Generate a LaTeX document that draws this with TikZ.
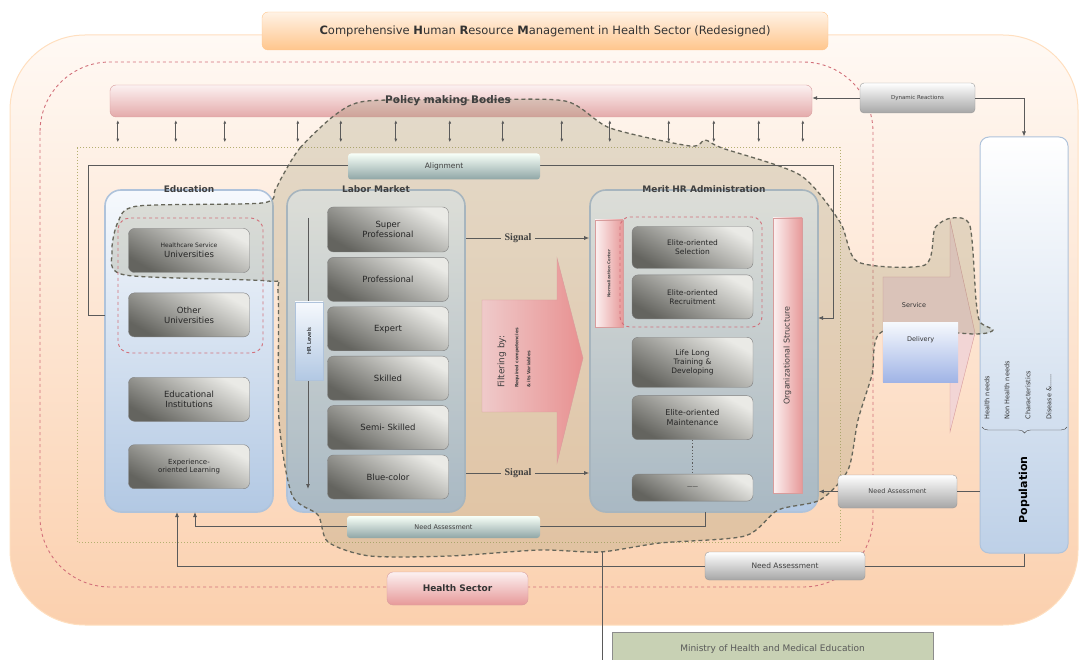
\documentclass[tikz,border=0pt]{standalone}
\usepackage{fontspec}
\setmainfont{DejaVu Sans}
\newfontfamily\sigfont{Liberation Serif}
\usetikzlibrary{positioning,arrows.meta,shadings,decorations.pathreplacing}

\definecolor{bgtop}{HTML}{FFF9F4}
\definecolor{bgbot}{HTML}{FBD0AE}
\definecolor{itemlight}{HTML}{EAEAE6}
\definecolor{itemdark}{HTML}{64645F}
\definecolor{conttop}{HTML}{F6F9FD}
\definecolor{contbot}{HTML}{B2C8E3}
\definecolor{contline}{HTML}{AFC3DB}
\definecolor{pinktop}{HTML}{FCF1F1}
\definecolor{pinkbot}{HTML}{E4AAAA}
\definecolor{pinkline}{HTML}{D89C9C}
\definecolor{reddash}{HTML}{D2707A}
\definecolor{greendot}{HTML}{B5B070}
\definecolor{blobfill}{HTML}{8E8A62}
\definecolor{blobline}{HTML}{66665A}
\definecolor{linegray}{HTML}{5A5A5A}
\definecolor{ministfill}{HTML}{C8D1B4}

\newcommand\itemfont{\fontsize{8.5}{10}\selectfont}
\newcommand\smallfont{\fontsize{6.5}{7.5}\selectfont}
\newcommand\tinyfont{\fontsize{5.5}{6.5}\selectfont}

\tikzset{
  titlebox/.style={draw=orange!45, rounded corners=6pt, top color=orange!10, bottom color=orange!45,
    minimum width=566pt, minimum height=38pt, font=\fontsize{11.5}{13}\selectfont, text=black!80},
  policybox/.style={draw=pinkline, rounded corners=6pt, top color=pinktop, bottom color=pinkbot,
    minimum width=702pt, minimum height=32pt},
  contbox/.style={draw=contline, line width=1.6pt, rounded corners=16pt, top color=conttop,
    bottom color=contbot},
  conttitle/.style={font=\fontsize{9}{10}\selectfont\bfseries, text=black!75},
  itembox/.style={draw=black!50, rounded corners=6pt, top color=itemlight, bottom color=itemdark,
    shading angle=-30, minimum width=121pt, minimum height=44pt, align=center, font=\itemfont,
    text=black!85},
  graybtn/.style={draw=black!40, rounded corners=4pt, top color=white, bottom color=black!35,
    align=center, font=\smallfont, text=black!75},
  greenbtn/.style={rounded corners=3pt, top color=green!3!white, bottom color=teal!25!gray!70,
    font=\smallfont, text=black!75},
  pinkbar/.style={draw=pinkline, left color=pinktop, right color=pinkbot!90!red},
  reddash/.style={draw=reddash, dashed, line width=0.9pt, rounded corners=#1},
  conn/.style={draw=linegray, line width=0.8pt},
  signal/.style={font=\sigfont\bfseries\fontsize{10}{11}\selectfont, text=black!75},
  needtext/.style={rotate=90, anchor=west, font=\fontsize{6.5}{7.5}\selectfont, text=black!80},
}

\begin{document}
\begin{tikzpicture}[x=1pt,y=-1pt, >={Latex[length=5pt,width=4pt]}]
  \useasboundingbox (0,0) rectangle (1085,660);
  \clip (0,0) rectangle (1085,660);

  % health sector background and frames
  \path[draw=orange!25, line width=1pt, top color=bgtop, bottom color=bgbot, rounded corners=75pt]
    (10,35) rectangle (1078,625);
  \draw[reddash=70pt] (40,62) rectangle (873,587);
  \draw[greendot, dotted, line width=1pt] (77,148) rectangle (840,542);

  \node[titlebox] (title) at (545,31)
    {\textbf{C}omprehensive \textbf{H}uman \textbf{R}esource \textbf{M}anagement in Health Sector (Redesigned)};

  \node[policybox] (policy) at (461,101) {};
  \node[graybtn, minimum width=115pt, minimum height=30pt, font=\tinyfont] (dyn) at (917.5,98) {Dynamic Reactions};

  % containers
  \node[contbox, minimum width=168pt, minimum height=322pt] (edu) at (189,351) {};
  \node[contbox, minimum width=178pt, minimum height=322pt] (labor) at (376,351) {};
  \node[contbox, minimum width=228pt, minimum height=322pt] (merit) at (704,351) {};
  \node[draw=contline, line width=1pt, rounded corners=9pt, top color=white, bottom color=contbot!85,
    minimum width=88pt, minimum height=416pt] (pop) at (1024,345) {};

  % service delivery arrow
  \draw[draw=pinkline, fill=pinktop!60!pinkbot] (883,277) -- (950,277) -- (950,220) -- (975,333)
    -- (950,432) -- (950,382) -- (883,382) -- cycle;

  % ministry region
  \draw[blobline, dashed, line width=1.3pt, fill=blobfill, fill opacity=0.24, dash pattern=on 4pt off 3pt]
    plot[smooth cycle, tension=0.45] coordinates {
      (283,175) (300,148) (335,115) (367,101) (470,100) (565,101) (610,128) (690,146) (705,140)
      (722,148) (800,175) (840,222) (858,262) (925,265) (935,228) (952,218) (970,226) (976,300)
      (980,322) (993,330) (975,334) (883,331) (872,375) (858,420) (848,470) (820,500) (778,510)
      (745,536) (660,543) (600,552) (540,550) (450,556) (370,556) (328,542) (318,515) (292,495)
      (279,420) (278,292) (268,281) (125,275) (112,252) (118,222) (138,206) (262,203) (275,190)};

  \node[font=\fontsize{10.5}{12}\selectfont\bfseries, text=black!75] at (448,101) {Policy making Bodies};
  \node[conttitle] at (edu.north) {Education};
  \node[conttitle] at (labor.north) {Labor Market};
  \node[conttitle] at (merit.north) {Merit HR Administration};

  % education
  \draw[reddash=12pt] (118,218) rectangle (263,353);
  \node[itembox] (hcuni) at (189,250.5) {{\fontsize{6}{7}\selectfont Healthcare Service}\\Universities};
  \node[itembox, below=20pt of hcuni] (othuni) {Other\\Universities};
  \node[itembox, below=40pt of othuni] (eduinst) {Educational\\Institutions};
  \node[itembox, below=23pt of eduinst, font=\fontsize{7}{8.5}\selectfont] (explearn) {Experience-\\oriented Learning};

  % labor market
  \coordinate (hrtop) at (308,218);
  \coordinate (hrbot) at (308,489);
  \draw[conn, ->] (hrtop) -- (hrbot);
  \node[draw=contline, top color=conttop, bottom color=contbot, minimum width=28pt, minimum height=78pt] (hrlvl) at (309,341) {};
  \node[rotate=90, font=\tinyfont] at (hrlvl) {HR Levels};
  \node[itembox, minimum height=45pt] (superp) at (388,229.5) {Super\\Professional};
  \node[itembox, below=5pt of superp] (prof) {Professional};
  \node[itembox, below=5pt of prof] (expert) {Expert};
  \node[itembox, below=5pt of expert] (skilled) {Skilled};
  \node[itembox, below=5pt of skilled] (semisk) {Semi- Skilled};
  \node[itembox, below=5pt of semisk] (bluec) {Blue-color};

  % filtering
  \draw[draw=pinkline, left color=pinktop!45!pinkbot, right color=pinkbot!85!red] (482,300) -- (557,300) -- (557,258)
    -- (583,358) -- (557,463) -- (557,412) -- (482,412) -- cycle;
  \node[rotate=90, align=left, text=black!75] at (514,358)
    {\fontsize{9}{10}\selectfont Filtering by:\\[2pt]{\fontsize{4.5}{5.5}\selectfont\bfseries Required competencies}\\{\fontsize{4.5}{5.5}\selectfont\bfseries \& its Variables}};

  % merit hr administration
  \node[pinkbar, minimum width=28pt, minimum height=107pt] (normc) at (609,273.5) {};
  \node[rotate=90, font=\fontsize{4}{5}\selectfont\bfseries, text=black!70] at (normc) {Normalization Center};
  \draw[reddash=10pt] (620,217) rectangle (762,327);
  \node[itembox, minimum height=42pt, font=\fontsize{7.5}{9}\selectfont] (sel) at (692.5,247.5) {Elite-oriented\\Selection};
  \node[itembox, below=6pt of sel, font=\fontsize{7.5}{9}\selectfont] (recr) {Elite-oriented\\Recruitment};
  \node[itembox, below=18pt of recr, minimum height=50pt, font=\fontsize{7.5}{9}\selectfont] (train) {Life Long\\Training \&\\Developing};
  \node[itembox, below=8pt of train, font=\fontsize{8}{9.5}\selectfont] (maint) {Elite-oriented\\Maintenance};
  \node[itembox, below=34pt of maint, minimum height=27pt, font=\tinyfont] (morebox) {------};
  \draw[linegray, dotted, line width=1.2pt] (maint) -- (morebox);
  \node[pinkbar, minimum width=29pt, minimum height=275pt] (orgst) at (787.5,355.5) {};
  \node[rotate=90, font=\fontsize{8}{9}\selectfont, text=black!75] at (orgst) {Organizational Structure};

  % signals
  \node[signal] (sig1) at (518,238) {Signal};
  \node[signal] (sig2) at (518,473) {Signal};
  \draw[conn] (labor.east |- sig1) -- (sig1);
  \draw[conn, ->] (sig1) -- (merit.west |- sig1);
  \draw[conn] (labor.east |- sig2) -- (sig2);
  \draw[conn, ->] (sig2) -- (merit.west |- sig2);

  % service delivery
  \node[font=\smallfont, text=black!80] (serv) at (914,305) {Service};
  \node[top color=conttop, bottom color=contbot!90!blue, minimum width=75pt, minimum height=60pt,
    anchor=north west, font=\smallfont, text=black!80, text depth=26pt] (deliv) at (883,322) {Delivery};

  % population
  \node[needtext] at (987,423) {Health needs};
  \node[needtext] at (1007,423) {Non Health needs};
  \node[needtext] at (1028,423) {Characteristics};
  \node[needtext] at (1049,423) {Disease \&......};
  \draw[black!70, decorate, decoration={brace, amplitude=6pt}] (1067,427) -- (982,427);
  \node[rotate=90, font=\fontsize{11}{12}\selectfont\bfseries] at (1024,490) {Population};

  % policy links
  \foreach \dx in {8,66,115,188,231,286,340,393,452,500,559,604,649,693}
    \draw[conn, <->, >={Latex[length=3.5pt,width=3pt]}] ([xshift=\dx pt, yshift=-3pt]policy.south west) -- ++(0,22);
  \draw[conn, ->] (dyn.west) -- (policy.east |- dyn.west);
  \draw[conn, ->] (dyn.east) -| (pop.north);

  % alignment loop
  \coordinate (alignl) at (88,165);
  \coordinate (alignr) at (833,165);
  \coordinate (eduside) at (105,315);
  \coordinate (meritside) at (818,318);
  \draw[conn] (eduside) -| (alignl) -- (alignr);
  \draw[conn, ->] (alignr) |- (meritside);
  \node[greenbtn, minimum width=192pt, minimum height=26pt, font=\fontsize{7.5}{9}\selectfont] (align) at (444,166.5) {Alignment};

  % need assessment loops
  \node[graybtn, minimum width=119pt, minimum height=33pt] (needr) at (897.5,491.5) {Need Assessment};
  \draw[conn] (pop.west |- needr) -- (needr.east);
  \draw[conn, ->] (needr.west) -- (merit.east |- needr.west);

  \coordinate (meritbot) at (705,512);
  \coordinate (needturn) at (195,526);
  \coordinate (edumid) at (195,512);
  \coordinate (edulow) at (177,512);
  \draw[conn, ->] (meritbot) |- (needturn) -- (edumid);
  \node[greenbtn, minimum width=193pt, minimum height=22pt] (needm) at (443.5,527) {Need Assessment};

  \node[graybtn, minimum width=160pt, minimum height=28pt, font=\fontsize{7.5}{9}\selectfont] (needb) at (785,566) {Need Assessment};
  \draw[conn] (pop.south) |- (needb.east);
  \draw[conn, ->] (needb.west) -| (edulow);

  \node[draw=pinkline, rounded corners=6pt, top color=pinktop, bottom color=pinkbot!90!red,
    minimum width=141pt, minimum height=33pt, font=\fontsize{9}{10}\selectfont\bfseries, text=black!80] (hsect) at (457.5,588.5) {Health Sector};

  % ministry
  \coordinate (minitop) at (602,552);
  \coordinate (minibot) at (602,662);
  \draw[conn] (minitop) -- (minibot);
  \node[draw=black!45, fill=ministfill, minimum width=321pt, minimum height=40pt,
    text depth=8pt, font=\fontsize{9}{10}\selectfont, text=black!65] (minist) at (772.5,652) {Ministry of Health and Medical Education};
\end{tikzpicture}
\end{document}
